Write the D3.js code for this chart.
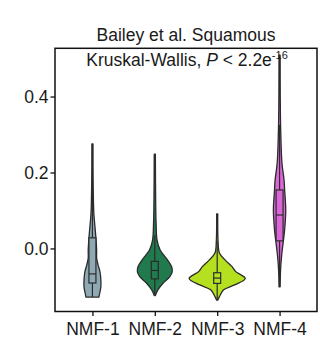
<!DOCTYPE html>
<html>
<head>
<meta charset="utf-8">
<script src="https://cdn.jsdelivr.net/npm/d3@7/dist/d3.min.js"></script>
<style>
  html, body { margin: 0; padding: 0; background: #fff; }
  svg { display: block; }
  text { font-family: "Liberation Sans", Arial, Helvetica, sans-serif; fill: #1a1a1a; }
</style>
</head>
<body>
<svg id="chart" width="320" height="343"></svg>
<script>
// Groups and colours
const groups = ["NMF-1", "NMF-2", "NMF-3", "NMF-4"];
const fills = ["#8fa9b4", "#207a4e", "#b4e01f", "#da66d8"];
const yTicks = [0.0, 0.2, 0.4];

// Violin density profiles: score values and relative density (1 = widest violin)
const nmf1Y = [0.275, 0.18, 0.093, 0.049, 0.022, -0.004, -0.025, -0.043, -0.062, -0.083, -0.101, -0.114, -0.128];
const nmf1D = [0.02, 0.025, 0.05, 0.10, 0.13, 0.15, 0.15, 0.20, 0.27, 0.30, 0.30, 0.27, 0.23];
const nmf2Y = [0.248, 0.128, 0.067, 0.022, -0.004, -0.030, -0.048, -0.062, -0.075, -0.091, -0.109, -0.124];
const nmf2D = [0.02, 0.03, 0.045, 0.08, 0.19, 0.45, 0.60, 0.62, 0.53, 0.30, 0.11, 0.02];
const nmf3Y = [0.091, 0.022, -0.012, -0.030, -0.048, -0.061, -0.079, -0.096, -0.109, -0.127, -0.136];
const nmf3D = [0.02, 0.03, 0.08, 0.28, 0.53, 0.66, 1.0, 0.62, 0.23, 0.08, 0.02];
const nmf4Y = [0.509, 0.391, 0.312, 0.225, 0.180, 0.154, 0.101, 0.049, 0.014, -0.022, -0.057, -0.101];
const nmf4D = [0.02, 0.025, 0.04, 0.085, 0.16, 0.18, 0.22, 0.18, 0.125, 0.07, 0.035, 0.02];
const densityY = [nmf1Y, nmf2Y, nmf3Y, nmf4Y];
const densityD = [nmf1D, nmf2D, nmf3D, nmf4D];

// Box-plot summaries
const boxQ1 = [-0.091, -0.080, -0.092, 0.020];
const boxMedian = [-0.067, -0.058, -0.078, 0.088];
const boxQ3 = [0.028, -0.034, -0.064, 0.154];
const whiskerLo = [-0.128, -0.124, -0.136, -0.101];
const whiskerHi = [0.20, 0.035, 0.02, 0.325];

const titleText = "Bailey et al. Squamous";
const testName = "Kruskal-Wallis, ";
const pText = "P";
const pValue = " < 2.2e";
const pExp = "-16";

const svg = d3.select("#chart");
const panel = { left: 55, right: 317, top: 48.3, bottom: 311.5 };

const x = d3.scalePoint().domain(groups).range([panel.left, panel.right]).padding(0.6);
const y = d3.scaleLinear().domain([-0.166, 0.527]).range([panel.bottom, panel.top]);
const w = d3.scaleLinear().domain([0, 1]).range([0, x.step() * 0.45]);

// Violins
const plot = svg.append("g");
groups.forEach((g, i) => {
  const cx = x(g);
  const pts = densityY[i].map((v, k) => ({ v, d: densityD[i][k] }));
  const area = d3.area()
    .y(p => y(p.v))
    .x0(p => cx - w(p.d))
    .x1(p => cx + w(p.d))
    .curve(d3.curveCatmullRom.alpha(0.5));
  plot.append("path")
    .attr("d", area(pts))
    .attr("fill", fills[i])
    .attr("stroke", "#2b2b2b")
    .attr("stroke-width", 1.3)
    .attr("stroke-linejoin", "round");

  // whisker line
  plot.append("line")
    .attr("x1", cx).attr("x2", cx)
    .attr("y1", y(whiskerLo[i])).attr("y2", y(whiskerHi[i]))
    .attr("stroke", "#2b2b2b").attr("stroke-width", 1.2);

  // box
  const bw = 7;
  plot.append("rect")
    .attr("x", cx - bw / 2).attr("width", bw)
    .attr("y", y(boxQ3[i])).attr("height", y(boxQ1[i]) - y(boxQ3[i]))
    .attr("fill", fills[i])
    .attr("stroke", "#2b2b2b").attr("stroke-width", 1.2);
  plot.append("line")
    .attr("x1", cx - bw / 2).attr("x2", cx + bw / 2)
    .attr("y1", y(boxMedian[i])).attr("y2", y(boxMedian[i]))
    .attr("stroke", "#2b2b2b").attr("stroke-width", 1.2);
});

// Panel border
svg.append("rect")
  .attr("x", panel.left).attr("y", panel.top)
  .attr("width", panel.right - panel.left).attr("height", panel.bottom - panel.top)
  .attr("fill", "none").attr("stroke", "#111").attr("stroke-width", 1.5);

// Axes
const yAxis = svg.append("g")
  .attr("transform", `translate(${panel.left},0)`)
  .call(d3.axisLeft(y).tickValues(yTicks).tickFormat(d3.format(".1f")).tickSize(4.5).tickPadding(2));
const xAxis = svg.append("g")
  .attr("transform", `translate(0,${panel.bottom})`)
  .call(d3.axisBottom(x).tickSize(4.5).tickPadding(7));
[yAxis, xAxis].forEach(a => {
  a.select(".domain").remove();
  a.selectAll(".tick line").attr("stroke", "#111").attr("stroke-width", 1.3);
  a.selectAll(".tick text").attr("font-size", 17.5).attr("fill", "#1a1a1a")
    .attr("font-family", "'Liberation Sans', Arial, sans-serif");
});

// Titles
const cxPanel = (panel.left + panel.right) / 2;
svg.append("text")
  .attr("x", cxPanel).attr("y", 40.5)
  .attr("text-anchor", "middle")
  .attr("font-size", 17.5)
  .text(titleText);

const sub = svg.append("text")
  .attr("x", cxPanel + 1).attr("y", 65.5)
  .attr("text-anchor", "middle")
  .attr("font-size", 17.5);
sub.append("tspan").text(testName);
sub.append("tspan").attr("font-style", "italic").text(pText);
sub.append("tspan").text(pValue);
sub.append("tspan").attr("font-size", 11).attr("dy", -6.5).text(pExp);
</script>
</body>
</html>
